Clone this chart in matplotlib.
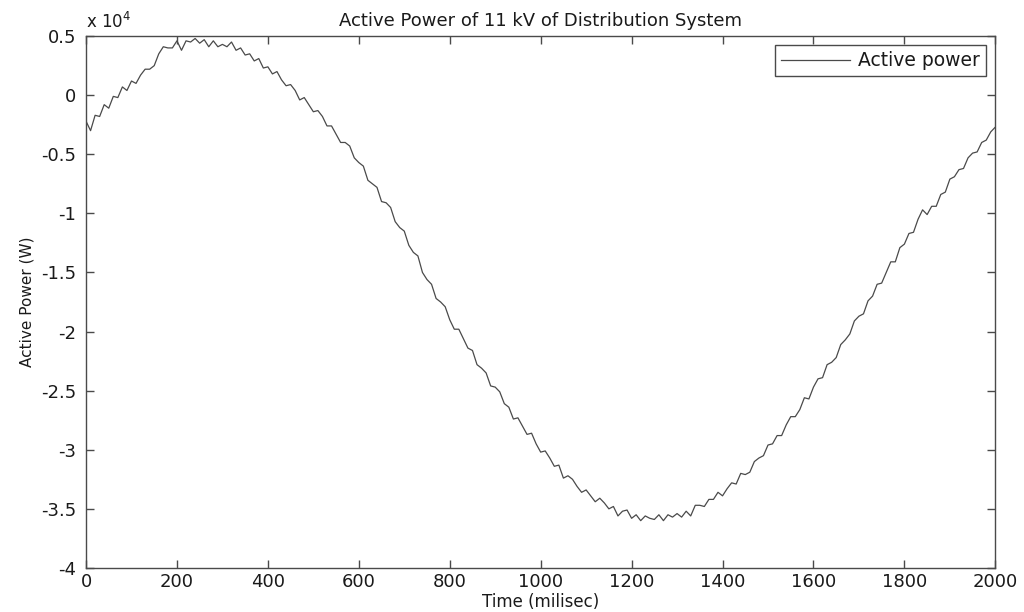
import numpy as np
import matplotlib
matplotlib.use("Agg")
import matplotlib.pyplot as plt

# Active power of the 11 kV feeder, sampled every 10 ms (values in x 10^4 W)
time_ms = np.arange(0, 2001, 10)
power_1e4 = [
    -0.22, -0.30, -0.17, -0.18, -0.08, -0.11, -0.01, -0.02, 0.07, 0.04,
    0.12, 0.10, 0.17, 0.22, 0.22, 0.25, 0.35, 0.41, 0.40, 0.40,
    0.46, 0.38, 0.46, 0.45, 0.48, 0.44, 0.47, 0.41, 0.46, 0.41,
    0.43, 0.41, 0.45, 0.38, 0.40, 0.34, 0.35, 0.29, 0.31, 0.23,
    0.24, 0.18, 0.20, 0.13, 0.08, 0.09, 0.04, -0.04, -0.02, -0.08,
    -0.14, -0.13, -0.18, -0.26, -0.26, -0.33, -0.40, -0.40, -0.43, -0.53,
    -0.57, -0.60, -0.72, -0.75, -0.78, -0.90, -0.91, -0.95, -1.07, -1.12,
    -1.15, -1.27, -1.33, -1.36, -1.50, -1.56, -1.60, -1.72, -1.75, -1.79,
    -1.90, -1.98, -1.98, -2.06, -2.14, -2.16, -2.28, -2.31, -2.35, -2.46,
    -2.47, -2.51, -2.61, -2.64, -2.74, -2.73, -2.80, -2.87, -2.86, -2.95,
    -3.02, -3.01, -3.07, -3.14, -3.13, -3.24, -3.22, -3.25, -3.31, -3.36,
    -3.34, -3.39, -3.44, -3.41, -3.45, -3.50, -3.48, -3.56, -3.52, -3.51,
    -3.58, -3.55, -3.60, -3.56, -3.58, -3.59, -3.55, -3.60, -3.55, -3.57,
    -3.54, -3.57, -3.52, -3.56, -3.47, -3.47, -3.48, -3.42, -3.42, -3.36,
    -3.39, -3.33, -3.28, -3.29, -3.20, -3.21, -3.19, -3.10, -3.07, -3.05,
    -2.96, -2.95, -2.88, -2.88, -2.79, -2.72, -2.72, -2.66, -2.56, -2.57,
    -2.47, -2.40, -2.39, -2.28, -2.26, -2.22, -2.11, -2.07, -2.02, -1.91,
    -1.87, -1.85, -1.74, -1.70, -1.60, -1.59, -1.50, -1.41, -1.41, -1.29,
    -1.26, -1.17, -1.16, -1.05, -0.97, -1.01, -0.94, -0.94, -0.84, -0.82,
    -0.71, -0.69, -0.63, -0.62, -0.53, -0.49, -0.48, -0.40, -0.38, -0.31,
    -0.27,
]

x_ticks = [0, 200, 400, 600, 800, 1000, 1200, 1400, 1600, 1800, 2000]
y_ticks = [0.5, 0, -0.5, -1, -1.5, -2, -2.5, -3, -3.5, -4]
y_tick_labels = ["0.5", "0", "-0.5", "-1", "-1.5", "-2", "-2.5", "-3", "-3.5", "-4"]

TEXT = "#1a1a1a"
AXIS = "#4a4a4a"
LINE = "#4a4a4a"

plt.rcParams["font.family"] = "DejaVu Sans"
plt.rcParams["axes.unicode_minus"] = False

fig = plt.figure(figsize=(10.24, 6.12), dpi=100)
ax = fig.add_axes([0.084, 0.072, 0.888, 0.869])

ax.plot(time_ms, power_1e4, color=LINE, lw=0.9, label="Active power")

ax.set_xlim(0, 2000)
ax.set_ylim(-4, 0.5)
ax.set_xticks(x_ticks)
ax.set_yticks(y_ticks)
ax.set_yticklabels(y_tick_labels)

ax.tick_params(direction="in", top=True, right=True, length=6, width=1,
               color=AXIS, labelsize=13, labelcolor=TEXT)
ax.tick_params(axis="x", pad=4)
ax.tick_params(axis="y", pad=7)
for sp in ax.spines.values():
    sp.set_color(AXIS)
    sp.set_linewidth(1.0)

ax.set_title("Active Power of 11 kV of Distribution System",
             fontsize=13, color=TEXT, pad=7)
ax.set_xlabel("Time (milisec)", fontsize=12, color=TEXT, labelpad=1)
ax.set_ylabel("Active Power (W)", fontsize=11, color=TEXT, labelpad=5)
ax.text(0.0, 1.008, r"x 10$^4$", transform=ax.transAxes, ha="left",
        va="bottom", fontsize=12, color=TEXT)

leg = ax.legend(loc="upper right", fontsize=13.5, handlelength=3.7,
                handletextpad=0.45, borderpad=0.3, borderaxespad=0.5,
                fancybox=False, framealpha=1.0)
leg.get_frame().set_edgecolor(AXIS)
leg.get_frame().set_linewidth(1.0)
for t in leg.get_texts():
    t.set_color(TEXT)

fig.savefig("out.png", dpi=100)
